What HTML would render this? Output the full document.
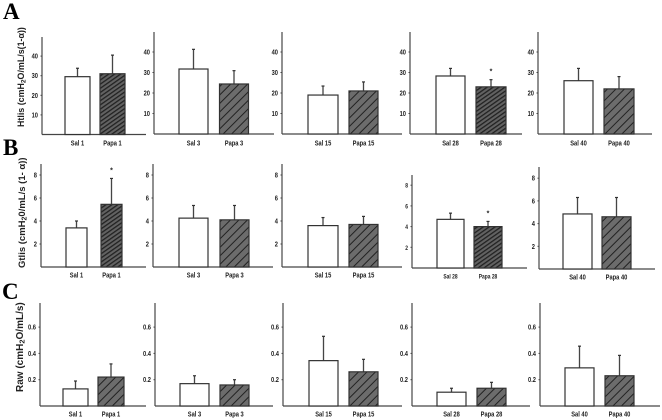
<!DOCTYPE html>
<html>
<head>
<meta charset="utf-8">
<title>Lung mechanics bar charts</title>
<style>
html,body{margin:0;padding:0;background:#fff;}
svg{display:block;}
text{font-family:"Liberation Sans",sans-serif;font-weight:bold;fill:#222;}
</style>
</head>
<body>
<svg id="chart" width="662" height="420" viewBox="0 0 662 420" xmlns="http://www.w3.org/2000/svg">
  <defs>
    <pattern id="hatch-wide" patternUnits="userSpaceOnUse" width="6" height="6" patternTransform="rotate(45)">
      <rect width="6" height="6" fill="#6c6c6c"></rect>
      <rect width="1" height="6" fill="#222"></rect>
    </pattern>
    <pattern id="hatch-dense" patternUnits="userSpaceOnUse" width="3.4" height="3.4" patternTransform="rotate(55)">
      <rect width="3.4" height="3.4" fill="#626262"></rect>
      <rect width="1.3" height="3.4" fill="#222"></rect>
    </pattern>
    <filter id="soften" x="0" y="0" width="100%" height="100%"><feGaussianBlur stdDeviation="0.3"></feGaussianBlur></filter>
  </defs>
  <g id="plot-root" filter="url(#soften)"></g>
</svg>
<script>
// ---- data ----
const days = [1, 3, 15, 28, 40];

const htlisSalMeans = [29.5, 31.7, 19, 28.3, 26];
const htlisSalTops = [33.8, 41.3, 23.4, 32, 32];
const htlisPapaMeans = [31, 24.4, 21, 23, 22];
const htlisPapaTops = [40.5, 30.9, 25.4, 26.5, 28];
const htlisStars = [false, false, false, true, false];
const htlisTicks = [10, 20, 30, 40];

const gtisSalMeans = [3.4, 4.25, 3.6, 4.7, 4.85];
const gtisSalTops = [4, 5.35, 4.3, 5.3, 6.3];
const gtisPapaMeans = [5.45, 4.1, 3.7, 4, 4.6];
const gtisPapaTops = [7.7, 5.35, 4.4, 4.5, 6.3];
const gtisStars = [true, false, false, true, false];
const gtisTicks = [2, 4, 6, 8];

const rawSalMeans = [0.13, 0.17, 0.345, 0.105, 0.29];
const rawSalTops = [0.19, 0.23, 0.53, 0.135, 0.455];
const rawPapaMeans = [0.22, 0.16, 0.26, 0.135, 0.23];
const rawPapaTops = [0.32, 0.2, 0.355, 0.18, 0.385];
const rawStars = [false, false, false, false, false];
const rawTicks = [0.2, 0.4, 0.6];
const rawTickLabels = ['0.2', '0.4', '0.6'];

// ---- layout of the panels (not data) ----
const layoutA = [
  {axis:42, right:146, top:37, zero:134.5, unit:1.96, sal:[65,90], papa:[100,125], labelY:143, fs:7, hatch:'hatch-dense'},
  {axis:154, right:274, top:32, zero:134, unit:2.05, sal:[179,208], papa:[219.5,248.5], labelY:143, fs:7, hatch:'hatch-wide'},
  {axis:282, right:402, top:32, zero:134, unit:2.05, sal:[308,338], papa:[349,378], labelY:143, fs:7, hatch:'hatch-wide'},
  {axis:410, right:522, top:32, zero:134, unit:2.05, sal:[436,465], papa:[476,506], labelY:143, fs:7, hatch:'hatch-dense'},
  {axis:538, right:652, top:32, zero:134, unit:2.05, sal:[564,593], papa:[604,634], labelY:143, fs:7, hatch:'hatch-wide'}
];
const layoutB = [
  {axis:41, right:146, top:164, zero:267, unit:11.5, sal:[66,87], papa:[101,122], labelY:275, fs:7, hatch:'hatch-dense'},
  {axis:153, right:273, top:164, zero:267, unit:11.5, sal:[179,208], papa:[220,249], labelY:275, fs:7, hatch:'hatch-wide'},
  {axis:282, right:402, top:164, zero:267, unit:11.5, sal:[308,338], papa:[349,378], labelY:275, fs:7, hatch:'hatch-wide'},
  {axis:412, right:527, top:175, zero:268, unit:10.35, sal:[437,464], papa:[474,502], labelY:276, fs:6, hatch:'hatch-dense'},
  {axis:539, right:655, top:167, zero:269, unit:11.35, sal:[563,592], papa:[602,631], labelY:277, fs:7, hatch:'hatch-wide'}
];
const layoutC = [
  {axis:40, right:146, top:303, zero:406, unit:131.5, sal:[63,88], papa:[98,124], labelY:414, fs:7, hatch:'hatch-wide'},
  {axis:155, right:273, top:303, zero:406, unit:131.5, sal:[180,209], papa:[220,249], labelY:414, fs:7, hatch:'hatch-wide'},
  {axis:283, right:402, top:303, zero:406, unit:131.5, sal:[309,338], papa:[349,378], labelY:414, fs:7, hatch:'hatch-wide'},
  {axis:412, right:530, top:303, zero:406, unit:131.5, sal:[437,466], papa:[477,506], labelY:414, fs:7, hatch:'hatch-wide'},
  {axis:540, right:660, top:303, zero:406, unit:131.5, sal:[565,594], papa:[605,634], labelY:414, fs:7, hatch:'hatch-wide'}
];

const NS = 'http://www.w3.org/2000/svg';
const root = document.getElementById('plot-root');

function make(parent, tag, props) {
  const el = document.createElementNS(NS, tag);
  for (const k in props) el.setAttribute(k, props[k]);
  parent.appendChild(el);
  return el;
}

// condensed bold label, like the narrow tick lettering in the figure
function makeLabel(parent, x, y, anchor, size, content) {
  const el = make(parent, 'text', {transform:'translate(' + x + ',' + y + ') scale(0.82,1.05)', 'text-anchor':anchor, 'font-size':size});
  el.textContent = content;
  return el;
}

function drawBar(g, frame, range, mean, top, fill, name, starred) {
  const y = v => frame.zero - v * frame.unit;
  const cx = (range[0] + range[1]) / 2;

  const stem = make(g, 'line', {x1:cx, x2:cx, y1:y(mean), y2:y(top), stroke:'#444', 'stroke-width':1.3});
  
  

  const cap = make(g, 'line', {x1:cx-1.5, x2:cx+1.5, y1:y(top), y2:y(top), stroke:'#333', 'stroke-width':1.2});
  
  

  const bar = make(g, 'rect', {x:range[0], y:y(mean), width:range[1]-range[0], height:frame.zero-y(mean), fill:fill, stroke:'#333', 'stroke-width':1.2});
  
  

  if (starred) {
    const star = make(g, 'text', {x:cx, y:y(top)-6, 'text-anchor':'middle', 'font-size':7});
    star.textContent = '*';
    
    
  }
}

function drawPanel(prefix, frame, day, ticks, tickLabels, salMean, salTop, papaMean, papaTop, starred) {
  const y = v => frame.zero - v * frame.unit;
  const g = make(root, 'g', {});
  
  

  const yAxis = make(g, 'line', {x1:frame.axis, x2:frame.axis, y1:frame.top, y2:frame.zero, stroke:'#444', 'stroke-width':1.2});
  
  

  const xAxis = make(g, 'line', {x1:frame.axis, x2:frame.right, y1:frame.zero, y2:frame.zero, stroke:'#444', 'stroke-width':1.2});
  
  

  ticks.forEach((t, i) => {
    const mark = make(g, 'line', {x1:frame.axis-1.5, x2:frame.axis, y1:y(t), y2:y(t), stroke:'#444', 'stroke-width':1});
    
    
    const label = makeLabel(g, frame.axis-4, y(t)+2.5, 'end', frame.fs, tickLabels[i]);
    
    
  });

  drawBar(g, frame, frame.sal, salMean, salTop, '#fff', 'sal-' + day, false);
  drawBar(g, frame, frame.papa, papaMean, papaTop, 'url(#' + frame.hatch + ')', 'papa-' + day, starred);

  const salLabel = makeLabel(g, (frame.sal[0]+frame.sal[1])/2, frame.labelY+2.5, 'middle', frame.fs, 'Sal ' + day);
  
  

  const papaLabel = makeLabel(g, (frame.papa[0]+frame.papa[1])/2, frame.labelY+2.5, 'middle', frame.fs, 'Papa ' + day);
  
  
}

days.forEach((day, i) => {
  drawPanel('htlis', layoutA[i], day, htlisTicks, htlisTicks.map(String), htlisSalMeans[i], htlisSalTops[i], htlisPapaMeans[i], htlisPapaTops[i], htlisStars[i]);
  drawPanel('gtis', layoutB[i], day, gtisTicks, gtisTicks.map(String), gtisSalMeans[i], gtisSalTops[i], gtisPapaMeans[i], gtisPapaTops[i], gtisStars[i]);
  drawPanel('raw', layoutC[i], day, rawTicks, rawTickLabels, rawSalMeans[i], rawSalTops[i], rawPapaMeans[i], rawPapaTops[i], rawStars[i]);
});
</script>
<svg width="662" height="420" viewBox="0 0 662 420" xmlns="http://www.w3.org/2000/svg" style="position:absolute;left:0;top:0;pointer-events:none;">
  <g filter="url(#soften)">
    <text x="3" y="19" font-size="23" style="font-family:'Liberation Serif',serif;fill:#000;">A</text>
    <text x="3" y="155" font-size="23" style="font-family:'Liberation Serif',serif;fill:#000;">B</text>
    <text x="2" y="299" font-size="23" style="font-family:'Liberation Serif',serif;fill:#000;">C</text>
    <text transform="translate(24,127) rotate(-90)" font-size="8.9">Htlis (cmH<tspan font-size="6.6" dy="1.5">2</tspan><tspan dy="-1.5">O/mL/s(1-α))</tspan></text>
    <text transform="translate(25,268) rotate(-90)" font-size="9.5">Gtlis (cmH<tspan font-size="7" dy="1.5">2</tspan><tspan dy="-1.5">0/mL/s (1- α))</tspan></text>
    <text transform="translate(23,392) rotate(-90)" font-size="10">Raw (cmH<tspan font-size="7.5" dy="1.5">2</tspan><tspan dy="-1.5">O/mL/s)</tspan></text>
  </g>
</svg>
</body>
</html>
